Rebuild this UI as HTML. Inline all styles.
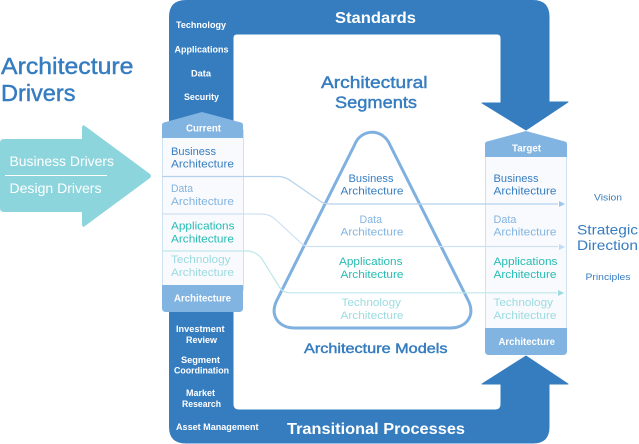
<!DOCTYPE html>
<html><head><meta charset="utf-8"><style>
html,body{margin:0;padding:0;background:#fff}
svg{display:block}
text{font-family:"Liberation Sans",sans-serif}
.w{fill:#fff;font-weight:bold}
.m{fill:#367dc0;stroke:#367dc0;stroke-width:.45}
.b{fill:#367dc0}
.d{fill:#82b4e2}
.a{fill:#27bcb3}
.t{fill:#9bdbe0}
</style></head><body>
<svg width="639" height="444" viewBox="0 0 639 444" xmlns="http://www.w3.org/2000/svg">
<path fill="#367dc0" stroke="#367dc0" stroke-width="1" stroke-linejoin="round" d="M169.500,125 V17 Q169.500,.5 186,.5 H533 Q549,.5 549,17 V102 H568 L526,130 L482,103 H501 V38 Q501,34 497,34 H237 Q233,34 233,38 V125 Z"/>
<path fill="#367dc0" stroke="#367dc0" stroke-width="1" stroke-linejoin="round" d="M169.500,305 V427 Q169.500,443 186,443 H533 Q549,443 549,427 V384 H568 L526,356 L482,384 H501 V404 Q501,410 495,410 H239 Q233,410 233,404 V305 Z"/>
<path fill="#8dd5dc" d="M4,139 H82 V127 Q83,124 85,126 L150,174 Q152,176 150,178 L85,226 Q83,228 82,225 V212 H4 Q0,212 0,208 V143 Q0,139 4,139 Z"/>
<rect x="5" y="175" width="102" height="1" fill="#fff"/>
<rect x="162.500" y="130" width="81" height="160" fill="#f8fafd" stroke="#cfe2f3"/>
<path fill="#82b4e2" d="M202,112 L241,122.500 Q243,123 243,125 V138 H162 V125 Q162,123 164,122.500 Z"/>
<path fill="#82b4e2" d="M162,285 H243 V308 Q243,312 239,312 H166 Q162,312 162,308 Z"/>
<rect x="485.500" y="150" width="81" height="182" fill="#f8fafd" stroke="#cfe2f3"/>
<path fill="#82b4e2" d="M526,131 L565,141.500 Q567,142 567,144 V157 H485 V144 Q485,142 487,141.500 Z"/>
<path fill="#82b4e2" d="M485,328 H567 V351 Q567,355 563,355 H489 Q485,355 485,351 Z"/>
<path fill="none" stroke="#7fb1e0" stroke-width="3" stroke-linejoin="round" d="M354.500,145 C361,128 383,128 390,145 L468,300 C476,316 466,328 450,328 L295,328 C279,328 269,316 277,300 Z"/>
<g fill="none" stroke-width="1.200">
<path stroke="#b4d2ee" d="M162,176.500 H278 Q285,176.500 291,181 L320,201 Q324,204 330,204 H558"/>
<path stroke="#cfe2f4" d="M162,214 H262 Q270,214 276,220 L301,243 Q304,246.500 310,246.500 H558"/>
<path stroke="#bfe8ea" d="M162,251 H247 Q256,251 262,259 L280,288 Q283,292.800 290,292.800 H557"/>
</g>
<path fill="#9fc5e9" d="M559,201 L565,204 L559,207 Z"/>
<path fill="#c4dcf2" d="M559,244 L565,247 L559,250 Z"/>
<path fill="#9bdbe0" d="M558,290 L564,293 L558,296 Z"/>

<g class="w" font-size="9">
<text x="176" y="28" textLength="50" lengthAdjust="spacingAndGlyphs">Technology</text>
<text x="174.500" y="52.500" textLength="54" lengthAdjust="spacingAndGlyphs">Applications</text>
<text x="191" y="76.500" textLength="20" lengthAdjust="spacingAndGlyphs">Data</text>
<text x="184" y="100" textLength="35" lengthAdjust="spacingAndGlyphs">Security</text>
<text x="176" y="332" textLength="48.500" lengthAdjust="spacingAndGlyphs">Investment</text>
<text x="186" y="343" textLength="31" lengthAdjust="spacingAndGlyphs">Review</text>
<text x="181" y="363" textLength="39" lengthAdjust="spacingAndGlyphs">Segment</text>
<text x="174" y="373.500" textLength="55" lengthAdjust="spacingAndGlyphs">Coordination</text>
<text x="186" y="396" textLength="29" lengthAdjust="spacingAndGlyphs">Market</text>
<text x="182" y="407" textLength="39" lengthAdjust="spacingAndGlyphs">Research</text>
<text x="176" y="430" textLength="82.500" lengthAdjust="spacingAndGlyphs">Asset Management</text>
</g>
<g class="w" font-size="10">
<text x="186" y="131.500" textLength="35" lengthAdjust="spacingAndGlyphs">Current</text>
<text x="174" y="301.500" textLength="57" lengthAdjust="spacingAndGlyphs">Architecture</text>
<text x="512" y="151.500" textLength="29" lengthAdjust="spacingAndGlyphs">Target</text>
<text x="498.500" y="345" textLength="56.500" lengthAdjust="spacingAndGlyphs">Architecture</text>
</g>
<text class="w" font-size="16" x="335" y="23" textLength="81" lengthAdjust="spacingAndGlyphs">Standards</text>
<text class="w" font-size="16" x="287" y="434" textLength="178" lengthAdjust="spacingAndGlyphs">Transitional Processes</text>

<g fill="#fff" font-size="14">
<text x="9.500" y="166" textLength="104.500" lengthAdjust="spacingAndGlyphs">Business Drivers</text>
<text x="9.500" y="193" textLength="92" lengthAdjust="spacingAndGlyphs">Design Drivers</text>
</g>
<g class="m" font-size="23">
<text x="1" y="74" textLength="132.500" lengthAdjust="spacingAndGlyphs">Architecture</text>
<text x="1" y="101" textLength="74.500" lengthAdjust="spacingAndGlyphs">Drivers</text>
</g>
<g class="m" font-size="17">
<text x="321" y="88" textLength="106.500" lengthAdjust="spacingAndGlyphs">Architectural</text>
<text x="335" y="108" textLength="82" lengthAdjust="spacingAndGlyphs">Segments</text>
</g>
<text class="m" font-size="14" x="304" y="353" textLength="143.500" lengthAdjust="spacingAndGlyphs">Architecture Models</text>

<g font-size="11">
<text class="b" x="171" y="155" textLength="45" lengthAdjust="spacingAndGlyphs">Business</text>
<text class="b" x="171" y="167.500" textLength="63" lengthAdjust="spacingAndGlyphs">Architecture</text>
<text class="d" x="171" y="192" textLength="22" lengthAdjust="spacingAndGlyphs">Data</text>
<text class="d" x="171" y="205" textLength="63" lengthAdjust="spacingAndGlyphs">Architecture</text>
<text class="a" x="171" y="229.500" textLength="63.500" lengthAdjust="spacingAndGlyphs">Applications</text>
<text class="a" x="171" y="242.500" textLength="63" lengthAdjust="spacingAndGlyphs">Architecture</text>
<text class="t" x="171" y="263" textLength="59.500" lengthAdjust="spacingAndGlyphs">Technology</text>
<text class="t" x="171" y="276" textLength="63" lengthAdjust="spacingAndGlyphs">Architecture</text>

<text class="b" x="348.500" y="182" textLength="45" lengthAdjust="spacingAndGlyphs">Business</text>
<text class="b" x="340.500" y="194.500" textLength="63" lengthAdjust="spacingAndGlyphs">Architecture</text>
<text class="d" x="359.500" y="223" textLength="22.500" lengthAdjust="spacingAndGlyphs">Data</text>
<text class="d" x="340.500" y="235.500" textLength="63" lengthAdjust="spacingAndGlyphs">Architecture</text>
<text class="a" x="339" y="265" textLength="63.500" lengthAdjust="spacingAndGlyphs">Applications</text>
<text class="a" x="340.500" y="278" textLength="63" lengthAdjust="spacingAndGlyphs">Architecture</text>
<text class="t" x="341.500" y="306" textLength="59.500" lengthAdjust="spacingAndGlyphs">Technology</text>
<text class="t" x="340.500" y="319" textLength="63" lengthAdjust="spacingAndGlyphs">Architecture</text>

<text class="b" x="493.500" y="182" textLength="45" lengthAdjust="spacingAndGlyphs">Business</text>
<text class="b" x="493.500" y="194.500" textLength="63" lengthAdjust="spacingAndGlyphs">Architecture</text>
<text class="d" x="493.500" y="223" textLength="23" lengthAdjust="spacingAndGlyphs">Data</text>
<text class="d" x="493.500" y="235.500" textLength="63" lengthAdjust="spacingAndGlyphs">Architecture</text>
<text class="a" x="493.500" y="265" textLength="64" lengthAdjust="spacingAndGlyphs">Applications</text>
<text class="a" x="493.500" y="278" textLength="63" lengthAdjust="spacingAndGlyphs">Architecture</text>
<text class="t" x="493.500" y="306" textLength="59.500" lengthAdjust="spacingAndGlyphs">Technology</text>
<text class="t" x="493.500" y="319" textLength="63" lengthAdjust="spacingAndGlyphs">Architecture</text>
</g>
<g class="b" font-size="9.500">
<text x="594" y="200.500" textLength="28" lengthAdjust="spacingAndGlyphs">Vision</text>
<text x="585.500" y="280" textLength="45" lengthAdjust="spacingAndGlyphs">Principles</text>
</g>
<g class="b" font-size="14">
<text x="577" y="234.500" textLength="61" lengthAdjust="spacingAndGlyphs">Strategic</text>
<text x="577" y="250" textLength="61" lengthAdjust="spacingAndGlyphs">Direction</text>
</g>
</svg>
</body></html>
